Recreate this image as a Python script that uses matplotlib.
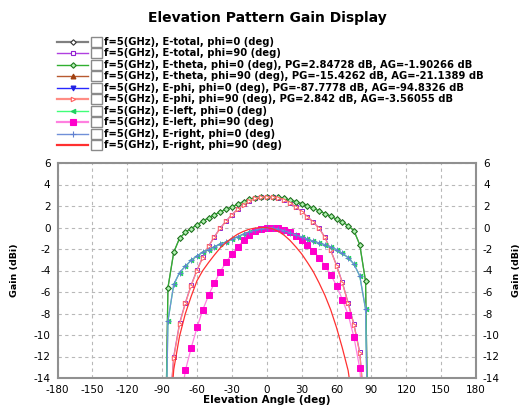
import matplotlib
matplotlib.use("Agg")
import matplotlib.pyplot as plt
from matplotlib.patches import Rectangle

plt.rcParams['font.family'] = ['DejaVu Sans']
plt.rcParams['axes.unicode_minus'] = False

# elevation sweep (deg)
angles = [-90, -85, -80, -75, -70, -65, -60, -55, -50, -45, -40, -35, -30, -25, -20, -15, -10, -5, 0,
          5, 10, 15, 20, 25, 30, 35, 40, 45, 50, 55, 60, 65, 70, 75, 80, 85, 90]

e_total_0 = [-40, -5.6, -2.3, -1.0, -0.45, -0.1, 0.25, 0.6, 0.9, 1.18, 1.45, 1.7, 1.93, 2.15, 2.4, 2.62, 2.78, 2.86, 2.88,
             2.87, 2.82, 2.7, 2.55, 2.4, 2.22, 2.02, 1.8, 1.55, 1.3, 1.05, 0.78, 0.5, 0.18, -0.3, -1.6, -5.0, -40]
e_theta_0 = [-40, -5.6, -2.3, -1.0, -0.45, -0.1, 0.25, 0.6, 0.9, 1.18, 1.45, 1.7, 1.93, 2.15, 2.4, 2.62, 2.78, 2.85, 2.87,
             2.86, 2.81, 2.7, 2.55, 2.4, 2.22, 2.02, 1.8, 1.55, 1.3, 1.05, 0.78, 0.5, 0.18, -0.3, -1.6, -5.0, -40]
e_total_90 = [-30, -19, -12.0, -8.9, -7.0, -5.35, -3.95, -2.75, -1.72, -0.85, -0.05, 0.6, 1.2, 1.7, 2.15, 2.5, 2.72, 2.83, 2.85,
              2.84, 2.76, 2.58, 2.3, 1.92, 1.5, 1.02, 0.5, -0.05, -0.9, -2.1, -3.5, -5.1, -7.0, -9.0, -11.6, -18, -30]
e_phi_90 = [-30, -19, -12.1, -9.0, -7.05, -5.4, -4.0, -2.8, -1.75, -0.88, -0.08, 0.58, 1.18, 1.68, 2.13, 2.48, 2.7, 2.82, 2.84,
            2.83, 2.75, 2.57, 2.29, 1.9, 1.48, 1.0, 0.48, -0.08, -0.93, -2.13, -3.55, -5.15, -7.05, -9.05, -11.7, -18, -30]
e_left_0 = [-40, -8.7, -5.3, -4.2, -3.6, -3.05, -2.65, -2.3, -2.05, -1.8, -1.55, -1.35, -1.1, -0.85, -0.62, -0.42, -0.25, -0.12, -0.05,
            -0.05, -0.15, -0.3, -0.48, -0.68, -0.88, -1.08, -1.27, -1.43, -1.6, -1.8, -2.05, -2.4, -2.8, -3.4, -4.5, -7.6, -40]
e_right_0 = [-40, -8.7, -5.3, -4.2, -3.6, -3.05, -2.65, -2.3, -2.05, -1.8, -1.55, -1.35, -1.1, -0.85, -0.62, -0.42, -0.25, -0.12, -0.05,
             -0.05, -0.15, -0.3, -0.48, -0.68, -0.88, -1.08, -1.27, -1.43, -1.6, -1.8, -2.05, -2.4, -2.8, -3.4, -4.5, -7.6, -40]
e_left_90 = [-40, -30, -22, -17, -13.3, -11.2, -9.3, -7.65, -6.3, -5.15, -4.1, -3.25, -2.45, -1.8, -1.2, -0.72, -0.36, -0.12, -0.02,
             0.0, -0.05, -0.2, -0.45, -0.78, -1.15, -1.6, -2.15, -2.8, -3.55, -4.4, -5.4, -6.7, -8.1, -10.2, -13.1, -20, -40]
e_right_90 = [-40, -20, -13.2, -10.1, -8.0, -6.4, -4.95, -4.0, -3.25, -2.55, -1.9, -1.4, -0.98, -0.62, -0.36, -0.16, -0.05, 0.0, -0.02,
              -0.12, -0.36, -0.72, -1.2, -1.8, -2.45, -3.25, -4.1, -5.15, -6.3, -7.65, -9.3, -11.2, -13.3, -17, -22, -30, -40]

labels = [
    "f=5(GHz), E-total, phi=0 (deg)",
    "f=5(GHz), E-total, phi=90 (deg)",
    "f=5(GHz), E-theta, phi=0 (deg), PG=2.84728 dB, AG=-1.90266 dB",
    "f=5(GHz), E-theta, phi=90 (deg), PG=-15.4262 dB, AG=-21.1389 dB",
    "f=5(GHz), E-phi, phi=0 (deg), PG=-87.7778 dB, AG=-94.8326 dB",
    "f=5(GHz), E-phi, phi=90 (deg), PG=2.842 dB, AG=-3.56055 dB",
    "f=5(GHz), E-left, phi=0 (deg)",
    "f=5(GHz), E-left, phi=90 (deg)",
    "f=5(GHz), E-right, phi=0 (deg)",
    "f=5(GHz), E-right, phi=90 (deg)",
]

# (line color, marker, marker edge, marker face, marker size, legend line width)
styles = [
    ('#808080', 'D', '#303030', 'white', 2.8, 1.6),
    ('#B040E0', 's', '#9020D0', 'white', 3.2, 1.0),
    ('#30B030', 'D', '#1E7A1E', '#B0F0B0', 2.8, 1.0),
    ('#B85A30', '^', '#A04010', '#A04010', 3.5, 1.0),
    ('#2828FF', 'v', '#2020E0', '#2020E0', 3.5, 1.0),
    ('#FF8C84', '>', '#FF6060', 'white', 3.2, 1.6),
    ('#40FF78', '<', '#20D060', '#20D060', 3.2, 1.0),
    ('#FF80E0', 's', '#FF00CC', '#FF00CC', 5, 1.6),
    ('#7090D8', '+', '#6080D0', '#6080D0', 4, 1.0),
    ('#FF3030', None, '#FF3030', '#FF3030', 0, 1.6),
]

fig = plt.figure(figsize=(5.21, 4.07), dpi=100)
ax = fig.add_axes([57.5 / 521, 29 / 407, 418.5 / 521, 215 / 407])

series = [e_total_0, e_total_90, e_theta_0, None, None, e_phi_90, e_left_0, e_left_90, e_right_0, e_right_90]
for vals, st in zip(series, styles):
    if vals is None:
        continue
    color, mk, mec, mfc, ms, lw = st
    ax.plot(angles, vals, color=color, lw=0.9, marker=mk, markersize=ms,
            markeredgecolor=mec, markerfacecolor=mfc, markeredgewidth=0.7)

ax.set_xlim(-180, 180)
ax.set_ylim(-14, 6)
ax.set_xticks(range(-180, 181, 30))
ax.set_yticks(range(-14, 7, 2))
ax.grid(True, color='#B8B8B8', linestyle=(0, (3, 3)), linewidth=0.8)
ax.tick_params(length=0, labelsize=7.5, labelright=True, pad=5)
for sp in ax.spines.values():
    sp.set_color('#909090')
    sp.set_linewidth(1.5)

# overlay in pixel coordinates for title, legend and side labels
ov = fig.add_axes([0, 0, 1, 1], facecolor='none')
ov.set_xlim(0, 521)
ov.set_ylim(407, 0)
ov.axis('off')

ov.text(267, 18, "Elevation Pattern Gain Display", ha='center', va='center',
        fontsize=10, fontweight='bold')
ov.text(267, 400, "Elevation Angle (deg)", ha='center', va='center', fontsize=7.5, fontweight='bold')
ov.text(15, 270, "Gain (dBi)", rotation=90, ha='center', va='center', fontsize=6.8, fontweight='bold')
ov.text(517, 270, "Gain (dBi)", rotation=90, ha='center', va='center', fontsize=6.8, fontweight='bold')

row_y = 41.7
for lab, st in zip(labels, styles):
    color, mk, mec, mfc, ms, lw = st
    ov.plot([57, 88], [row_y, row_y], color=color, lw=lw)
    if mk is not None:
        ov.plot([73], [row_y], marker=mk, markersize=ms, markeredgecolor=mec,
                markerfacecolor=mfc, markeredgewidth=0.8, ls='none')
    ov.add_patch(Rectangle((90.5, row_y - 5), 11, 10, facecolor='white', edgecolor='#8A8A8A', lw=1.0))
    ov.text(104, row_y, lab, ha='left', va='center', fontsize=7.2, fontweight='bold')
    row_y += 11.5

fig.savefig("out.png", dpi=100)
